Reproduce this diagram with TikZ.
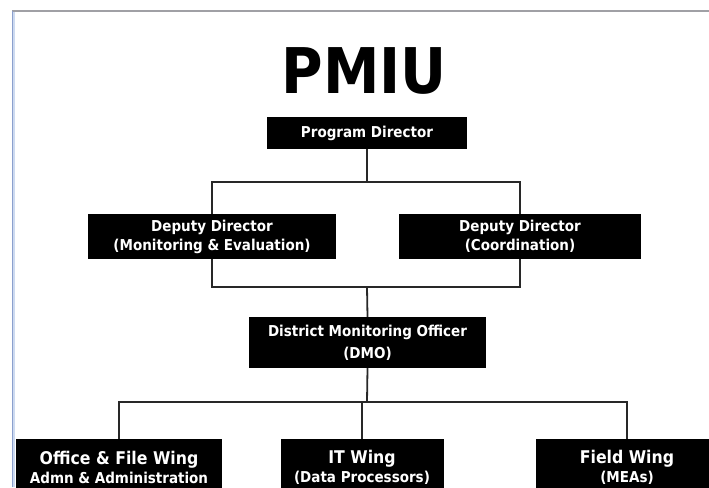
\documentclass[tikz,border=0pt]{standalone}
\usepackage{fontspec}
\newfontfamily\cond{DejaVu Sans Condensed}[BoldFont={DejaVu Sans Condensed Bold}]
\definecolor{linec}{RGB}{40,40,40}
\definecolor{framegray}{RGB}{160,160,165}
\definecolor{frameblue}{RGB}{140,160,205}
\definecolor{framelight}{RGB}{205,218,240}
\tikzset{
  orgbox/.style={fill=black, text=white, inner sep=0pt, align=center,
    font=\cond\bfseries\fontsize{15}{19}\selectfont},
  conn/.style={draw=linec, line width=1.8pt},
}
\begin{document}
\begin{tikzpicture}[x=1pt,y=-1pt]
\useasboundingbox (0,0) rectangle (709,487);
\clip (0,0) rectangle (709,487);
% frame
\draw[framegray, line width=1.5pt] (12,11) -- (709,11);
\draw[framelight, line width=1.5pt] (14.2,12) -- (14.2,487);
\draw[frameblue, line width=1.5pt] (12.5,11) -- (12.5,487);
% title
\node[anchor=base, inner sep=0pt, font=\cond\bfseries\fontsize{63}{70}\selectfont] (title) at (364,93) {PMIU};
% boxes
\node[orgbox, minimum width=200pt, minimum height=32pt] (pd) at (367,133) {Program Director};
\node[orgbox, minimum width=248pt, minimum height=45pt] (ddl) at (212,236.5) {Deputy Director\\(Monitoring \& Evaluation)};
\node[orgbox, minimum width=242pt, minimum height=45pt] (ddr) at (520,236.5) {Deputy Director\\(Coordination)};
\node[orgbox, minimum width=237pt, minimum height=51pt, font=\cond\bfseries\fontsize{15}{22}\selectfont] (dmo) at (367.5,342.5) {District Monitoring Officer\\(DMO)};
\node[orgbox, minimum width=206pt, minimum height=56pt] (bl) at (119,467) {{\fontsize{17.5}{18}\selectfont Office \& File Wing}\\Admn \& Administration};
\node[orgbox, minimum width=163pt, minimum height=56pt] (bm) at (362,467) {{\fontsize{17.5}{18}\selectfont IT Wing}\\(Data Processors)};
\node[orgbox, minimum width=182pt, minimum height=56pt] (br) at (627,467) {{\fontsize{17.5}{18}\selectfont Field Wing}\\(MEAs)};
% junctions
\coordinate (j1) at (367,182);
\coordinate (j2) at (367,287);
\coordinate (j3) at (367,402);
% connectors
\draw[conn] (pd.south) -- (j1);
\draw[conn] (ddl.north) |- (j1) -| (ddr.north);
\draw[conn] (ddl.south) |- (j2) -| (ddr.south);
\draw[conn] (j2) -- (dmo.north);
\draw[conn] (dmo.south) -- (j3);
\draw[conn] (bl.north) |- (j3) -| (br.north);
\draw[conn] (bm.north) -- (bm.north |- j3);
\end{tikzpicture}
\end{document}
